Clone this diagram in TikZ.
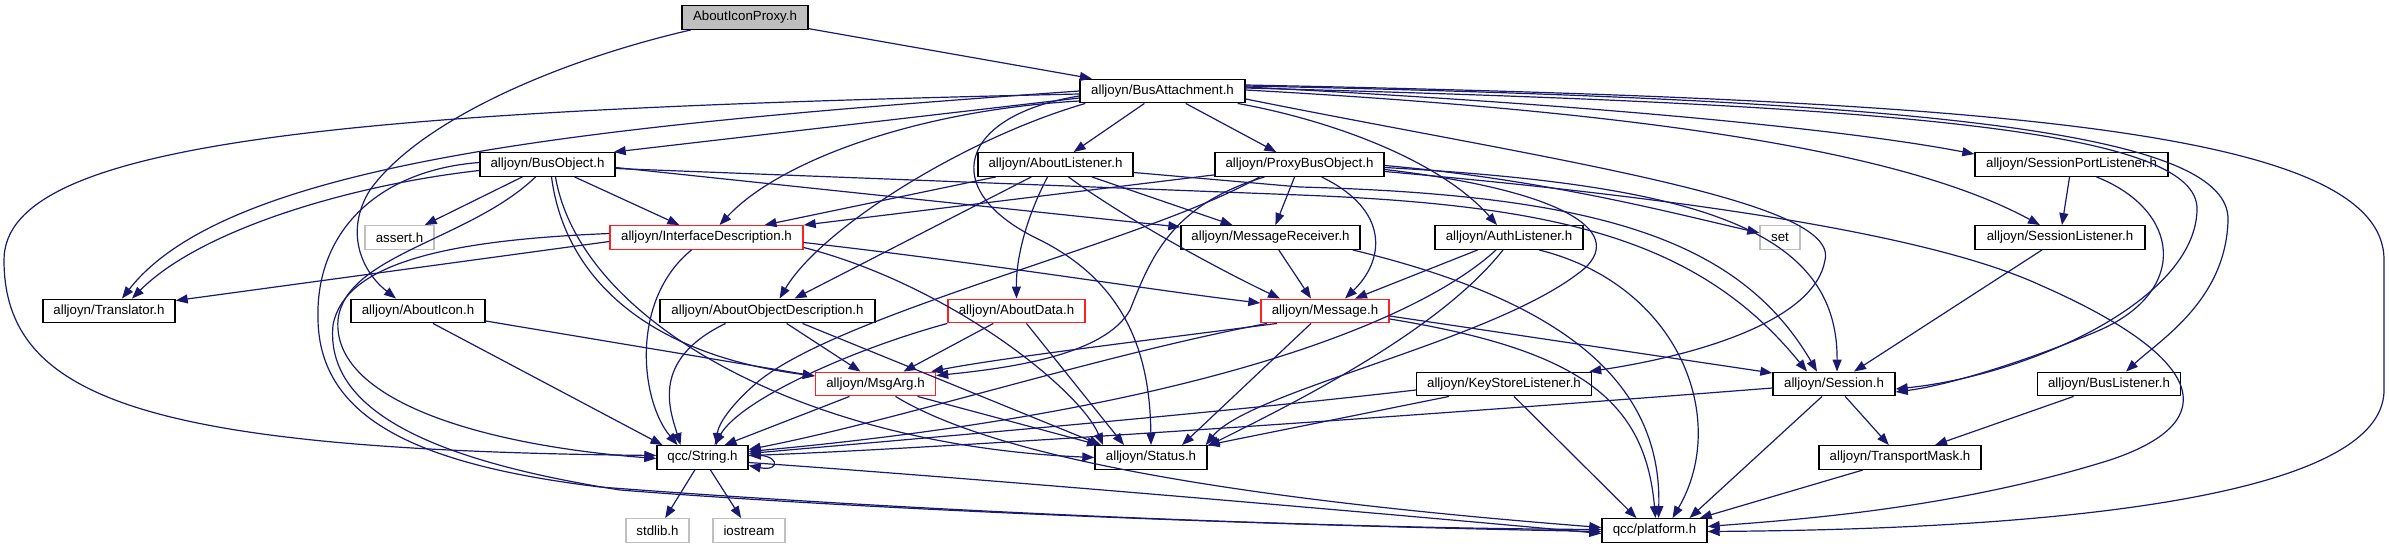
\documentclass[tikz,border=0pt]{standalone}
\usepackage{fontspec}
\setmainfont{Liberation Sans}
\usetikzlibrary{arrows.meta}
\definecolor{edgec}{HTML}{191970}
\definecolor{grayc}{HTML}{BFBFBF}
\definecolor{redc}{HTML}{FF2020}
\newcommand{\nfont}{\fontsize{13.3}{15}\selectfont}
\begin{document}
\begin{tikzpicture}[x=1pt,y=-1pt,
  nd/.style={draw=black, line width=1.4pt, rectangle, minimum height=23.5pt, inner sep=0pt, font=\nfont, fill=white},
  rednd/.style={nd, draw=redc},
  graynd/.style={nd, draw=grayc},
  rootnd/.style={nd, fill=grayc},
  dep/.style={draw=edgec, line width=1.2pt, -{Triangle[length=12pt,width=9pt]}}]
\useasboundingbox (0,0) rectangle (2389,549);
% nodes
\node[rootnd, minimum width=126pt] (proxyicon) at (745,17.5) {AboutIconProxy.h};
\node[nd, minimum width=165pt] (ba) at (1162.5,91) {alljoyn/BusAttachment.h};
\node[nd, minimum width=135pt] (bo) at (547.5,164.5) {alljoyn/BusObject.h};
\node[nd, minimum width=155pt] (al) at (1055.5,164.5) {alljoyn/AboutListener.h};
\node[nd, minimum width=169pt] (pbo) at (1299.5,164.5) {alljoyn/ProxyBusObject.h};
\node[nd, minimum width=193pt] (spl) at (2071.5,164.5) {alljoyn/SessionPortListener.h};
\node[rednd, minimum width=193pt] (id) at (706.5,237.5) {alljoyn/InterfaceDescription.h};
\node[graynd, minimum width=69pt] (asrt) at (399.5,237.5) {assert.h};
\node[nd, minimum width=179pt] (mr) at (1270.5,237.5) {alljoyn/MessageReceiver.h};
\node[nd, minimum width=148pt] (auth) at (1509,237.5) {alljoyn/AuthListener.h};
\node[graynd, minimum width=40pt] (setn) at (1780,237.5) {set};
\node[nd, minimum width=170pt] (sl) at (2060,237.5) {alljoyn/SessionListener.h};
\node[nd, minimum width=132pt] (tr) at (109,311) {alljoyn/Translator.h};
\node[nd, minimum width=134pt] (ai) at (418,311) {alljoyn/AboutIcon.h};
\node[nd, minimum width=215pt] (aod) at (767.5,311) {alljoyn/AboutObjectDescription.h};
\node[rednd, minimum width=137pt] (ad) at (1016.5,311) {alljoyn/AboutData.h};
\node[rednd, minimum width=128pt] (msg) at (1325,311) {alljoyn/Message.h};
\node[rednd, minimum width=120pt] (ma) at (875.5,384) {alljoyn/MsgArg.h};
\node[nd, minimum width=175pt] (ksl) at (1504,384) {alljoyn/KeyStoreListener.h};
\node[nd, minimum width=122pt] (sess) at (1834,384) {alljoyn/Session.h};
\node[nd, minimum width=143pt] (bl) at (2109,384) {alljoyn/BusListener.h};
\node[nd, minimum width=91pt] (str) at (702.5,457.5) {qcc/String.h};
\node[nd, minimum width=112pt] (status) at (1151,457.5) {alljoyn/Status.h};
\node[nd, minimum width=162pt] (tm) at (1900,457.5) {alljoyn/TransportMask.h};
\node[graynd, minimum width=63pt] (stdlib) at (657.5,530.5) {stdlib.h};
\node[graynd, minimum width=72pt] (iostream) at (749,530.5) {iostream};
\node[nd, minimum width=105pt] (plat) at (1654.5,530.5) {qcc/platform.h};
% AboutIconProxy
\draw[dep] (proxyicon) -- (ba);
\draw[dep] (proxyicon) .. controls (560,60) and (420,120) .. (370,190) .. controls (345,230) and (360,270) .. ([xshift=-22pt]ai.north);
% BusAttachment
\draw[dep] (ba.west) .. controls (600,125) and (230,160) .. ([xshift=13pt]tr.north);
\draw[dep] ([yshift=-3pt]ba.west) .. controls (350,110) and (4,140) .. (4,260) .. controls (4,400) and (150,450) .. ([yshift=2pt]str.west);
\draw[dep] ([yshift=-7pt]ba.west) -- ([xshift=-2pt]bo.north east);
\draw[dep] ([yshift=-10pt]ba.west) .. controls (920,110) and (780,160) .. ([xshift=13pt]id.north);
\draw[dep] ([xshift=6pt]ba.south west) .. controls (960,140) and (820,230) .. ([xshift=12pt]aod.north);
\draw[dep] ([yshift=-5pt]ba.west) .. controls (960,115) and (935,190) .. (1040,240) .. controls (1130,285) and (1150,360) .. (status.north);
\draw[dep] (ba) -- (al);
\draw[dep] (ba) -- (pbo);
\draw[dep] ([xshift=-8pt]ba.south east) .. controls (1330,120) and (1440,160) .. ([xshift=-12pt]auth.north);
\draw[dep] ([yshift=-8pt]ba.east) .. controls (1550,160) and (1840,200) .. (1825,260) .. controls (1815,320) and (1700,355) .. ([xshift=-3pt]ksl.north east);
\draw[dep] ([yshift=4pt]ba.east) .. controls (1600,105) and (1850,130) .. ([yshift=-2pt]spl.north west);
\draw[dep] ([yshift=1pt]ba.east) .. controls (1700,115) and (1920,160) .. ([xshift=-20pt]sl.north);
\draw[dep] ([yshift=3pt]ba.east) .. controls (1900,105) and (2200,130) .. (2197,210) .. controls (2195,300) and (2030,375) .. ([yshift=-5pt]sess.east);
\draw[dep] ([yshift=5pt]ba.east) .. controls (1950,100) and (2230,135) .. (2228,220) .. controls (2226,300) and (2160,340) .. ([xshift=17pt]bl.north);
\draw[dep] ([yshift=6pt]ba.east) .. controls (2000,100) and (2384,130) .. (2384,260) -- (2384,390) .. controls (2384,520) and (1900,530) .. ([yshift=-1pt]plat.east);
% BusObject
\draw[dep] (bo) -- (asrt);
\draw[dep] ([yshift=-6pt]bo.west) .. controls (350,185) and (200,230) .. ([xshift=23pt]tr.north);
\draw[dep] ([yshift=2pt]bo.west) .. controls (380,170) and (315,230) .. (318,320) .. controls (320,420) and (420,465) .. (600,487) .. controls (900,510) and (1300,528) .. ([yshift=1pt]plat.west);
\draw[dep] ([xshift=-12pt]bo.south) .. controls (470,240) and (345,255) .. (338,320) .. controls (332,400) and (480,445) .. ([yshift=-1pt]str.west);
\draw[dep] ([xshift=4pt]bo.south) .. controls (565,280) and (650,355) .. ([yshift=8pt]ma.west);
\draw[dep] ([xshift=8pt]bo.south) .. controls (580,320) and (800,445) .. (status.west);
\draw[dep] (bo) -- (id);
\draw[dep] ([yshift=-3pt]bo.east) -- ([yshift=-2pt]mr.north west);
\draw[dep] ([yshift=-4pt]bo.east) -- (1300,195) .. controls (1560,205) and (1700,240) .. ([xshift=-27pt]sess.north);
% AboutListener
\draw[dep] (al) -- ([xshift=58pt]id.north);
\draw[dep] (al) -- ([xshift=27pt]aod.north);
\draw[dep] ([xshift=-8pt]al.south) .. controls (1025,220) and (1016,260) .. (ad.north);
\draw[dep] ([xshift=13pt]al.south) .. controls (1120,215) and (1210,265) .. ([xshift=-45pt]msg.north);
\draw[dep] (al) -- ([xshift=-38pt]mr.north);
\draw[dep] ([yshift=-8pt]al.east) -- (1300,187) .. controls (1600,195) and (1740,240) .. ([xshift=-17pt]sess.north);
% ProxyBusObject
\draw[dep] (pbo) -- (id.north east);
\draw[dep] (pbo) -- (mr);
\draw[dep] ([xshift=-35pt]pbo.south) .. controls (1170,205) and (1150,260) .. (1130,310) .. controls (1105,355) and (1010,368) .. ([yshift=-4pt]ma.north east);
\draw[dep] ([xshift=22pt]pbo.south) .. controls (1390,210) and (1385,260) .. ([xshift=20pt]msg.north);
\draw[dep] ([xshift=-40pt]pbo.south) .. controls (1150,240) and (850,310) .. (760,380) .. controls (730,405) and (718,425) .. ([xshift=14pt]str.north);
\draw[dep] ([yshift=-5pt]pbo.east) .. controls (1560,190) and (1625,230) .. (1585,268) .. controls (1500,340) and (1250,390) .. ([xshift=-2pt]status.north east);
\draw[dep] ([yshift=-3pt]pbo.east) .. controls (1700,185) and (1838,230) .. ([xshift=3pt]sess.north);
\draw[dep] ([yshift=-7pt]pbo.east) .. controls (1650,195) and (1920,230) .. (2040,285) .. controls (2200,355) and (2230,420) .. (2110,460) .. controls (1950,510) and (1790,520) .. ([yshift=4pt]plat.east);
\draw[dep] ([yshift=-1pt]pbo.east) .. controls (1550,180) and (1680,215) .. (setn);
% AuthListener
\draw[dep] (auth) -- ([xshift=30pt]msg.north);
\draw[dep] ([xshift=-13pt]auth.south) .. controls (1420,320) and (1200,410) .. ([yshift=6pt]str.east);
\draw[dep] ([xshift=-6pt]auth.south) .. controls (1440,330) and (1300,400) .. ([yshift=-1pt]status.north east);
\draw[dep] ([xshift=30pt]auth.south) .. controls (1680,285) and (1730,420) .. ([xshift=18pt]plat.north);
% Message
\draw[dep] ([xshift=-48pt]msg.south) .. controls (1150,340) and (1000,358) .. ([xshift=-5pt]ma.north east);
\draw[dep] ([xshift=-58pt]msg.south) .. controls (1100,355) and (900,420) .. ([yshift=8pt]str.east);
\draw[dep] ([xshift=-14pt]msg.south) -- ([xshift=31pt]status.north);
\draw[dep] ([yshift=-5pt]msg.east) -- ([yshift=11pt]sess.west);
\draw[dep] ([yshift=-8pt]msg.east) .. controls (1580,350) and (1645,400) .. ([xshift=1pt]plat.north);
% MessageReceiver
\draw[dep] (mr) -- ([xshift=-14pt]msg.north);
\draw[dep] ([xshift=-8pt]mr.south east) .. controls (1560,300) and (1662,380) .. ([xshift=4pt]plat.north);
% AboutData
\draw[dep] (ad) -- ([xshift=28pt]ma.north);
\draw[dep] (ad.south west) .. controls (850,350) and (740,400) .. ([xshift=12pt]str.north);
\draw[dep] (ad) -- ([xshift=-27pt]status.north);
% AboutObjectDescription
\draw[dep] ([xshift=-42pt]aod.south) .. controls (650,360) and (670,410) .. ([xshift=-22pt]str.north);
\draw[dep] (aod) -- ([xshift=-15pt]ma.north);
\draw[dep] ([xshift=35pt]aod.south) -- ([xshift=-50pt]status.north);
% AboutIcon
\draw[dep] ([xshift=15pt]ai.south) -- ([xshift=-40pt]str.north);
\draw[dep] ([yshift=-10pt]ai.east) -- ([yshift=8pt]ma.west);
% InterfaceDescription
\draw[dep] ([yshift=-4pt]id.west) -- ([yshift=-2pt]tr.north east);
\draw[dep] ([xshift=-15pt]id.south) .. controls (630,300) and (640,400) .. ([xshift=-25pt]str.north);
\draw[dep] ([yshift=4pt]id.west) .. controls (450,240) and (345,262) .. (333,325) .. controls (325,410) and (430,460) .. (620,490) .. controls (900,512) and (1300,526) .. ([yshift=-1pt]plat.west);
\draw[dep] ([yshift=-5pt]id.east) .. controls (1000,265) and (1150,290) .. ([yshift=8pt]msg.west);
\draw[dep] ([yshift=-10pt]id.east) .. controls (950,285) and (1080,390) .. ([xshift=-48pt]status.north);
% MsgArg
\draw[dep] ([xshift=-26pt]ma.south) -- ([xshift=22pt]str.north);
\draw[dep] ([xshift=42pt]ma.south) -- ([xshift=-52pt]status.north);
\draw[dep] ([xshift=20pt]ma.south) .. controls (1000,460) and (1250,500) .. ([yshift=3pt]plat.west);
% KeyStoreListener
\draw[dep] ([yshift=-6pt]ksl.west) .. controls (1200,415) and (900,440) .. ([yshift=4pt]str.east);
\draw[dep] ([xshift=-55pt]ksl.south) -- (status.north east);
\draw[dep] ([xshift=10pt]ksl.south) -- ([xshift=-18pt]plat.north);
% Session
\draw[dep] ([yshift=-4pt]sess.west) .. controls (1300,425) and (900,450) .. ([yshift=2pt]str.east);
\draw[dep] (sess) -- (tm);
\draw[dep] ([xshift=-12pt]sess.south) -- ([xshift=35pt]plat.north);
% Session listeners
\draw[dep] ([xshift=-18pt]sl.south) -- ([xshift=20pt]sess.north);
\draw[dep] (spl) -- (sl);
\draw[dep] ([xshift=25pt]spl.south) .. controls (2180,210) and (2190,290) .. (2100,330) .. controls (2030,360) and (1950,385) .. ([yshift=-8pt]sess.east);
\draw[dep] (bl) -- ([xshift=35pt]tm.north);
\draw[dep] ([xshift=-37pt]tm.south) -- ([xshift=-8pt]plat.north east);
% String
\draw[dep] ([yshift=2pt]str.east) .. controls (780,452) and (782,472) .. ([yshift=-8pt]str.east);
\draw[dep] (str) -- (stdlib);
\draw[dep] (str) -- (iostream);
\draw[dep] ([yshift=-5pt]str.east) .. controls (1000,480) and (1400,515) .. ([yshift=-3pt]plat.west);
\end{tikzpicture}
\end{document}
